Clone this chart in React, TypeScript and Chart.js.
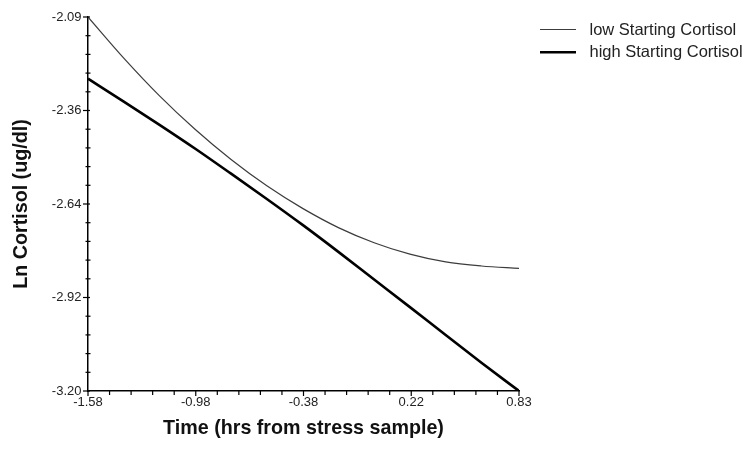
import React, { useEffect, useRef } from 'react';
import { Chart, registerables } from 'chart.js';

Chart.register(...registerables);

// ---- data ----
const timeValues = [-1.58, -1.38, -1.18, -0.98, -0.78, -0.58, -0.38, -0.18, 0.02, 0.22, 0.42, 0.62, 0.83];
const lowValues = [-2.09, -2.212, -2.324, -2.424, -2.513, -2.591, -2.658, -2.715, -2.76, -2.794, -2.817, -2.829, -2.836];
const highValues = [-2.273, -2.341, -2.41, -2.481, -2.555, -2.63, -2.707, -2.787, -2.869, -2.951, -3.034, -3.116, -3.2];
const xTickLabels = ['-1.58', '-0.98', '-0.38', '0.22', '0.83'];
const yTickLabels = ['-3.20', '-2.92', '-2.64', '-2.36', '-2.09'];
const seriesLabels = ['low Starting Cortisol', 'high Starting Cortisol'];
const xTitle = 'Time (hrs from stress sample)';
const yTitle = 'Ln Cortisol (ug/dl)';
const X_MIN = -1.58;
const X_MAX = 0.83;
const Y_MIN = -3.2;
const Y_MAX = -2.09;
const MINOR_PER_MAJOR = 5;

const FONT = "'Liberation Sans', Arial, sans-serif";

function majorValues(min: number, max: number, n: number) {
  const out: number[] = [];
  for (let i = 0; i < n; i++) out.push(min + (i * (max - min)) / (n - 1));
  return out;
}

const tickMarksPlugin = {
  id: 'tickMarks',
  afterDraw(chart: any) {
    const ctx = chart.ctx;
    const xs = chart.scales.x;
    const ys = chart.scales.y;
    const area = chart.chartArea;
    ctx.save();
    ctx.strokeStyle = '#000';
    ctx.lineWidth = 1.2;
    const xm = majorValues(X_MIN, X_MAX, xTickLabels.length);
    for (let i = 0; i < xm.length; i++) {
      const px = xs.getPixelForValue(xm[i]);
      ctx.beginPath();
      ctx.moveTo(px, area.bottom);
      ctx.lineTo(px, area.bottom + 5);
      ctx.stroke();
      if (i < xm.length - 1) {
        for (let k = 1; k < MINOR_PER_MAJOR; k++) {
          const v = xm[i] + ((xm[i + 1] - xm[i]) * k) / MINOR_PER_MAJOR;
          const p = xs.getPixelForValue(v);
          ctx.beginPath();
          ctx.moveTo(p, area.bottom);
          ctx.lineTo(p, area.bottom + 4);
          ctx.stroke();
        }
      }
    }
    const ym = majorValues(Y_MIN, Y_MAX, yTickLabels.length);
    for (let i = 0; i < ym.length; i++) {
      const py = ys.getPixelForValue(ym[i]);
      ctx.beginPath();
      ctx.moveTo(area.left - 5, py);
      ctx.lineTo(area.left + 2, py);
      ctx.stroke();
      if (i < ym.length - 1) {
        for (let k = 1; k < MINOR_PER_MAJOR; k++) {
          const v = ym[i] + ((ym[i + 1] - ym[i]) * k) / MINOR_PER_MAJOR;
          const p = ys.getPixelForValue(v);
          ctx.beginPath();
          ctx.moveTo(area.left - 2.5, p);
          ctx.lineTo(area.left + 2.5, p);
          ctx.stroke();
        }
      }
    }
    ctx.restore();
  },
};

const legendPlugin = {
  id: 'customLegend',
  afterDraw(chart: any) {
    const ctx = chart.ctx;
    ctx.save();
    chart.data.datasets.forEach((ds: any, i: number) => {
      const y = 29.5 + i * 22.7;
      ctx.strokeStyle = ds.borderColor;
      ctx.lineWidth = ds.borderWidth;
      ctx.beginPath();
      ctx.moveTo(540, y);
      ctx.lineTo(576, y);
      ctx.stroke();
      ctx.fillStyle = '#222';
      ctx.font = `16.5px ${FONT}`;
      ctx.textAlign = 'left';
      ctx.textBaseline = 'middle';
      ctx.fillText(ds.label, 589.5, y + 0.6);
    });
    ctx.restore();
  },
};

export default function App() {
  const ref = useRef<HTMLCanvasElement | null>(null);

  useEffect(() => {
    if (!ref.current) return;
    const chart = new Chart(ref.current, {
      type: 'line',
      data: {
        datasets: [
          {
            label: seriesLabels[0],
            data: timeValues.map((t, i) => ({ x: t, y: lowValues[i] })),
            borderColor: '#3c3c3c',
            borderWidth: 1.2,
            pointRadius: 0,
            fill: false,
            cubicInterpolationMode: 'monotone',
          },
          {
            label: seriesLabels[1],
            data: timeValues.map((t, i) => ({ x: t, y: highValues[i] })),
            borderColor: '#000000',
            borderWidth: 2.6,
            pointRadius: 0,
            fill: false,
            cubicInterpolationMode: 'monotone',
          },
        ],
      },
      options: {
        animation: false,
        responsive: false,
        maintainAspectRatio: false,
        layout: { padding: { left: 0, top: 17, right: 232, bottom: 0 } },
        plugins: {
          legend: { display: false },
          tooltip: { enabled: false },
        },
        scales: {
          x: {
            type: 'linear',
            min: X_MIN,
            max: X_MAX,
            grid: { display: false, drawTicks: false },
            border: { display: true, color: '#000', width: 1.5 },
            afterBuildTicks: (s: any) => {
              s.ticks = majorValues(X_MIN, X_MAX, xTickLabels.length).map((v) => ({ value: v }));
            },
            afterFit: (s: any) => {
              s.height = 60;
            },
            ticks: {
              autoSkip: false,
              maxRotation: 0,
              padding: 4,
              color: '#222',
              font: { family: FONT, size: 13 },
              callback: (_v: any, i: number) => xTickLabels[i],
            },
            title: {
              display: true,
              text: xTitle,
              color: '#111',
              font: { family: FONT, size: 19.7, weight: 'bold' },
              padding: { top: 0, bottom: 11 },
            },
          },
          y: {
            type: 'linear',
            min: Y_MIN,
            max: Y_MAX,
            grid: { display: false, drawTicks: false },
            border: { display: true, color: '#000', width: 1.5 },
            afterBuildTicks: (s: any) => {
              s.ticks = majorValues(Y_MIN, Y_MAX, yTickLabels.length).map((v) => ({ value: v }));
            },
            afterFit: (s: any) => {
              s.width = 88;
            },
            ticks: {
              autoSkip: false,
              padding: 6.5,
              color: '#222',
              font: { family: FONT, size: 13 },
              callback: (_v: any, i: number) => yTickLabels[i],
            },
            title: {
              display: true,
              text: yTitle,
              color: '#111',
              font: { family: FONT, size: 19.7, weight: 'bold' },
              padding: { top: 9.4, bottom: 0 },
            },
          },
        },
      },
      plugins: [tickMarksPlugin, legendPlugin],
    } as any);
    return () => chart.destroy();
  }, []);

  return (
    <div style={{ position: 'fixed', left: 0, top: 0, width: 751, height: 451, background: '#fff' }}>
      <canvas ref={ref} width={751} height={451} style={{ display: 'block' }} />
    </div>
  );
}
